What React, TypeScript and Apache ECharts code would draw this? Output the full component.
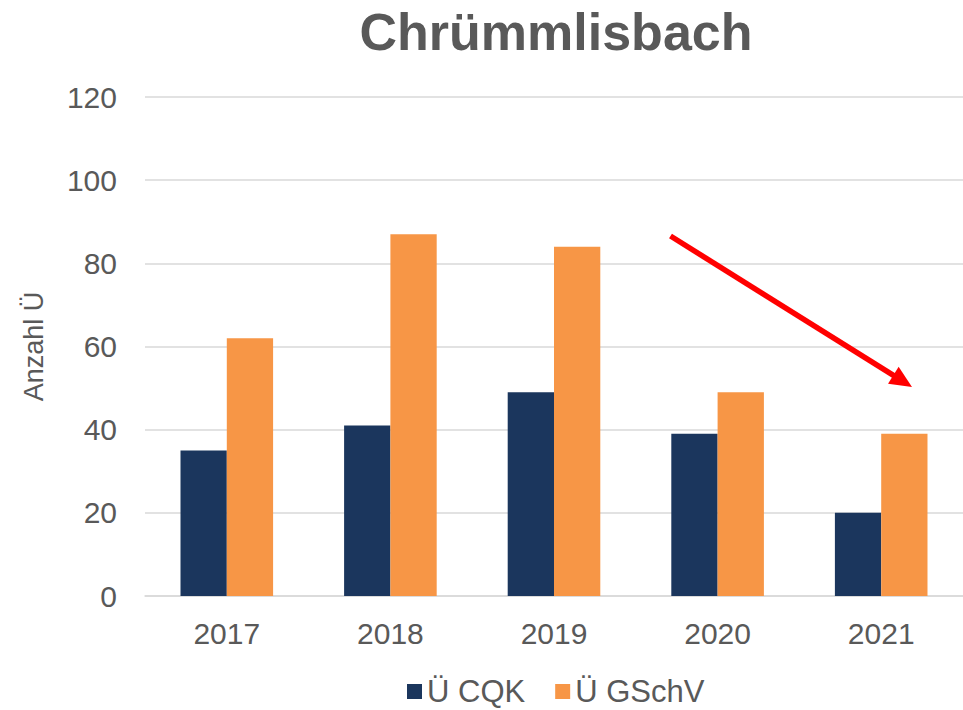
import React, { useEffect, useRef } from "react";
import * as echarts from "echarts";

const categories = ["2017", "2018", "2019", "2020", "2021"];
const cqkValues = [35, 41, 49, 39, 20];
const gschvValues = [62, 87, 84, 49, 39];
const seriesNames = ["Ü CQK", "Ü GSchV"];
const yTicks = { min: 0, max: 120, interval: 20 };

const FONT = "'Liberation Sans', Arial, sans-serif";
const TEXT = "#595959";

export default function App() {
  const ref = useRef<HTMLDivElement>(null);
  useEffect(() => {
    if (!ref.current) return;
    const chart = echarts.init(ref.current, undefined, { renderer: "svg" });
    // arrow geometry (annotation)
    const x1 = 670.5, y1 = 236, tx = 912, ty = 387;
    const dx = tx - x1, dy = ty - y1;
    const len = Math.sqrt(dx * dx + dy * dy);
    const ux = dx / len, uy = dy / len;
    const headLen = 22, headHalf = 10;
    const bx = tx - ux * headLen, by = ty - uy * headLen;
    const px = -uy * headHalf, py = ux * headHalf;
    chart.setOption({
      animation: false,
      textStyle: { fontFamily: FONT },
      title: {
        text: "Chrümmlisbach",
        left: 551,
        textAlign: "center",
        top: 1,
        textStyle: { fontSize: 52, fontWeight: "bold", color: TEXT, fontFamily: FONT },
      },
      grid: { left: 145, right: 0, top: 97, bottom: 114 },
      legend: {
        top: 671,
        left: 402,
        itemWidth: 15,
        itemHeight: 15,
        itemGap: 30,
        icon: "rect",
        textStyle: { fontSize: 31, color: TEXT, fontFamily: FONT },
        data: seriesNames,
      },
      xAxis: {
        type: "category",
        data: categories,
        axisLine: { show: true, lineStyle: { color: "#d9d9d9", width: 1.5 } },
        axisTick: { show: false },
        axisLabel: { fontSize: 30, color: TEXT, margin: 22, fontFamily: FONT },
      },
      yAxis: {
        type: "value",
        min: yTicks.min,
        max: yTicks.max,
        interval: yTicks.interval,
        name: "Anzahl Ü",
        nameLocation: "middle",
        nameGap: 98,
        nameTextStyle: { fontSize: 27, color: TEXT, fontFamily: FONT },
        axisLine: { show: false },
        axisTick: { show: false },
        axisLabel: { fontSize: 30, color: TEXT, margin: 28, fontFamily: FONT },
        splitLine: { lineStyle: { color: "#d9d9d9", width: 1.5 } },
      },
      series: [
        {
          name: seriesNames[0],
          type: "bar",
          data: cqkValues,
          barWidth: "28.3%",
          barGap: "0%",
          itemStyle: { color: "#1B365D" },
        },
        {
          name: seriesNames[1],
          type: "bar",
          data: gschvValues,
          barWidth: "28.3%",
          barGap: "0%",
          itemStyle: { color: "#F79646" },
        },
      ],
      graphic: [
        {
          type: "line",
          shape: { x1, y1, x2: bx + ux * 2, y2: by + uy * 2 },
          style: { stroke: "#FF0000", lineWidth: 5.5 },
          z: 100,
        },
        {
          type: "polygon",
          shape: {
            points: [
              [tx, ty],
              [bx + px, by + py],
              [bx - px, by - py],
            ],
          },
          style: { fill: "#FF0000" },
          z: 100,
        },
      ],
    });
    return () => chart.dispose();
  }, []);
  return (
    <div
      ref={ref}
      style={{ position: "absolute", left: 0, top: 0, width: 963, height: 710 }}
    />
  );
}
